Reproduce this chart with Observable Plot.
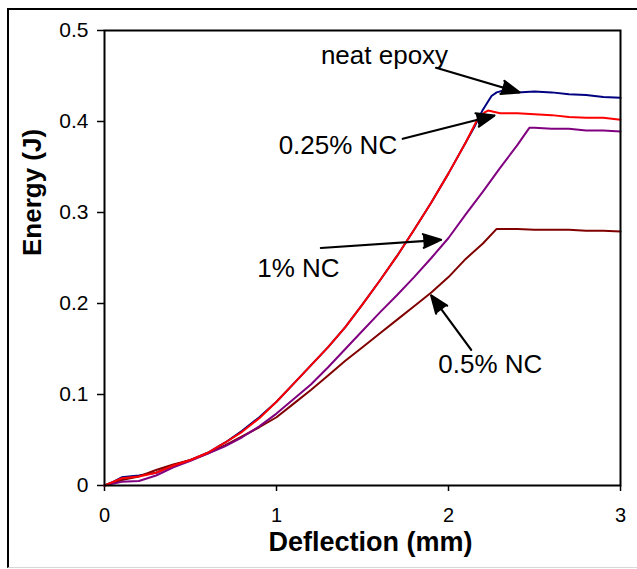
<!DOCTYPE html>
<html>
<head>
<meta charset="utf-8">
<script src="https://cdn.jsdelivr.net/npm/d3@7"></script>
<script src="https://cdn.jsdelivr.net/npm/@observablehq/plot@0.6"></script>
<style>
  html, body { margin: 0; padding: 0; background: #fff; }
  #wrap { position: relative; width: 637px; height: 569px; overflow: hidden; background: #fff; }
  #chart { position: absolute; left: 0; top: 0; }
  #border { position: absolute; left: 7px; top: 8px; width: 700px; height: 557px; pointer-events: none;
            border-left: 2px solid #000; border-top: 2px solid #000; border-bottom: 1px solid #d8d8d8; }
</style>
</head>
<body>
<div id="wrap"><div id="chart"></div><div id="border"></div></div>
<script>
// ---- data ----
const neatX = [0,0.05,0.1,0.2,0.3,0.4,0.5,0.6,0.7,0.8,0.9,1.0,1.1,1.2,1.3,1.4,1.5,1.6,1.7,1.8,1.9,2.0,2.1,2.15,2.2,2.25,2.28,2.32,2.4,2.5,2.6,2.7,2.8,2.9,3.0];
const neatY = [0,0.004,0.009,0.011,0.014,0.022,0.028,0.036,0.047,0.060,0.075,0.092,0.112,0.132,0.152,0.174,0.199,0.225,0.252,0.281,0.311,0.343,0.377,0.394,0.413,0.428,0.432,0.434,0.432,0.433,0.432,0.430,0.429,0.427,0.426];

const nc025X = [0,0.05,0.1,0.2,0.3,0.4,0.5,0.6,0.7,0.8,0.9,1.0,1.1,1.2,1.3,1.4,1.5,1.6,1.7,1.8,1.9,2.0,2.1,2.17,2.21,2.23,2.3,2.4,2.5,2.6,2.7,2.8,2.9,3.0];
const nc025Y = [0,0.004,0.008,0.010,0.014,0.022,0.028,0.036,0.047,0.059,0.074,0.092,0.112,0.132,0.152,0.174,0.199,0.225,0.252,0.281,0.311,0.343,0.377,0.403,0.410,0.412,0.409,0.409,0.408,0.407,0.405,0.404,0.404,0.402];

const nc1X = [0,0.1,0.2,0.3,0.4,0.5,0.6,0.7,0.8,0.9,1.0,1.1,1.2,1.3,1.4,1.5,1.6,1.7,1.8,1.9,2.0,2.1,2.2,2.3,2.4,2.47,2.5,2.6,2.7,2.8,2.9,3.0];
const nc1Y = [0,0.004,0.005,0.011,0.020,0.027,0.035,0.043,0.053,0.065,0.079,0.095,0.111,0.130,0.150,0.170,0.190,0.209,0.229,0.250,0.272,0.298,0.323,0.349,0.374,0.393,0.393,0.392,0.392,0.390,0.390,0.389];

const nc05X = [0,0.1,0.2,0.3,0.4,0.5,0.6,0.7,0.8,0.9,1.0,1.1,1.2,1.3,1.4,1.5,1.6,1.7,1.8,1.9,2.0,2.1,2.2,2.28,2.4,2.5,2.6,2.7,2.8,2.9,3.0];
const nc05Y = [0,0.006,0.010,0.017,0.023,0.028,0.035,0.044,0.054,0.064,0.075,0.090,0.105,0.121,0.137,0.152,0.167,0.182,0.197,0.212,0.229,0.249,0.266,0.282,0.282,0.281,0.281,0.281,0.280,0.280,0.279];

const seriesNames  = ["neat epoxy", "0.25% NC", "1% NC", "0.5% NC"];
const seriesColors = ["#000080", "#FF0000", "#800080", "#800000"];

const labelText = ["neat epoxy", "0.25% NC", "1% NC", "0.5% NC"];
const labelX    = [1.628, 1.357, 1.127, 2.243];
const labelY    = [0.4725, 0.3736, 0.2388, 0.133];
const arrowX1   = [1.928, 1.734, 1.258, 2.132];
const arrowY1   = [0.459, 0.381, 0.261, 0.149];
const arrowX2   = [2.413, 2.267, 1.957, 1.899];
const arrowY2   = [0.432, 0.4066, 0.270, 0.209];

const xTicks = [0, 1, 2, 3];
const xTickLabels = ["0", "1", "2", "3"];
const yTicks = [0, 0.1, 0.2, 0.3, 0.4, 0.5];
const yTickLabels = ["0", "0.1", "0.2", "0.3", "0.4", "0.5"];

const xTitle = "Deflection (mm)";
const yTitle = "Energy (J)";

// ---- build ----
const series = [
  {name: seriesNames[0], xs: neatX, ys: neatY},
  {name: seriesNames[1], xs: nc025X, ys: nc025Y},
  {name: seriesNames[2], xs: nc1X, ys: nc1Y},
  {name: seriesNames[3], xs: nc05X, ys: nc05Y}
];
const rows = series.flatMap(s => s.xs.map((x, i) => ({series: s.name, x, y: s.ys[i]})));
const order = [0, 3, 2, 1]; // blue, dark red, purple, red on top
const labels = labelText.map((t, i) => ({t, x: labelX[i], y: labelY[i], x1: arrowX1[i], y1: arrowY1[i], x2: arrowX2[i], y2: arrowY2[i]}));

const FONT = "'Liberation Sans', Arial, Helvetica, sans-serif";

const chart = Plot.plot({
  width: 637,
  height: 569,
  marginLeft: 104,
  marginRight: 17,
  marginTop: 30,
  marginBottom: 84,
  style: {fontFamily: FONT, background: "white", color: "black"},
  x: {domain: [0, 3]},
  y: {domain: [0, 0.5]},
  marks: [
    Plot.axisX(xTicks, {tickFormat: (d) => xTickLabels[xTicks.indexOf(d)], tickSize: 6, tickPadding: 16, fontSize: 20, label: null, stroke: "black", strokeWidth: 1.5}),
    Plot.axisY(yTicks, {tickFormat: (d) => yTickLabels[yTicks.indexOf(d)], tickSize: 7, tickPadding: 9, fontSize: 21, label: null, stroke: "black", strokeWidth: 1.5}),
    ...order.map(k => Plot.line(rows.filter(r => r.series === seriesNames[k]), {x: "x", y: "y", stroke: seriesColors[k], strokeWidth: 2})),
    Plot.frame({stroke: "black", strokeWidth: 2}),
    Plot.arrow(labels, {x1: "x1", y1: "y1", x2: "x2", y2: "y2", stroke: "black", fill: "black", strokeWidth: 2.2, headLength: 13, headAngle: 42}),
    Plot.text(labels, {x: "x", y: "y", text: "t", fontSize: 26, fill: "black", textAnchor: "middle", lineAnchor: "middle"}),
    Plot.text([xTitle], {frameAnchor: "bottom", lineAnchor: "middle", dx: 8, dy: 57, fontSize: 27, fontWeight: "bold", fill: "black"}),
    Plot.text([yTitle], {frameAnchor: "left", lineAnchor: "middle", dx: -72, dy: -2, rotate: -90, fontSize: 26, fontWeight: "bold", fill: "black"})
  ]
});
document.getElementById("chart").appendChild(chart);
</script>
</body>
</html>
